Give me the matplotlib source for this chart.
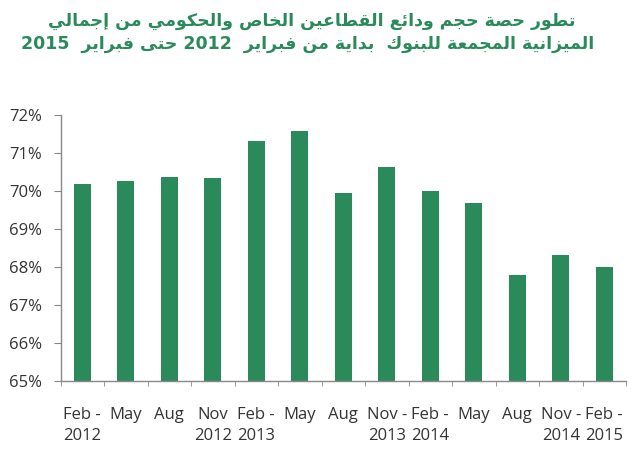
import re
import matplotlib
matplotlib.use("Agg")
import matplotlib.pyplot as plt
import numpy as np

periods = ["Feb -\n2012", "May", "Aug", "Nov\n2012", "Feb -\n2013", "May", "Aug",
           "Nov -\n2013", "Feb -\n2014", "May", "Aug", "Nov -\n2014", "Feb -\n2015"]
share = [70.18, 70.25, 70.36, 70.35, 71.32, 71.59, 69.96,
         70.63, 69.99, 69.68, 67.78, 68.31, 68.00]

title_lines = ["تطور حصة حجم ودائع القطاعين الخاص والحكومي من إجمالي",
               "الميزانية المجمعة للبنوك  بداية من فبراير  2012 حتى فبراير  2015"]

green = "#2a8a5a"

# presentation forms: isolated, final, initial, medial
FORMS = {
    "ا": (0xFE8D, 0xFE8E), "إ": (0xFE87, 0xFE88), "د": (0xFEA9, 0xFEAA),
    "ر": (0xFEAD, 0xFEAE), "ز": (0xFEAF, 0xFEB0), "و": (0xFEED, 0xFEEE),
    "ة": (0xFE93, 0xFE94), "ى": (0xFEEF, 0xFEF0),
    "ب": (0xFE8F, 0xFE90, 0xFE91, 0xFE92), "ت": (0xFE95, 0xFE96, 0xFE97, 0xFE98),
    "ج": (0xFE9D, 0xFE9E, 0xFE9F, 0xFEA0), "ح": (0xFEA1, 0xFEA2, 0xFEA3, 0xFEA4),
    "خ": (0xFEA5, 0xFEA6, 0xFEA7, 0xFEA8), "ص": (0xFEB9, 0xFEBA, 0xFEBB, 0xFEBC),
    "ط": (0xFEC1, 0xFEC2, 0xFEC3, 0xFEC4), "ع": (0xFEC9, 0xFECA, 0xFECB, 0xFECC),
    "ف": (0xFED1, 0xFED2, 0xFED3, 0xFED4), "ق": (0xFED5, 0xFED6, 0xFED7, 0xFED8),
    "ك": (0xFED9, 0xFEDA, 0xFEDB, 0xFEDC), "ل": (0xFEDD, 0xFEDE, 0xFEDF, 0xFEE0),
    "م": (0xFEE1, 0xFEE2, 0xFEE3, 0xFEE4), "ن": (0xFEE5, 0xFEE6, 0xFEE7, 0xFEE8),
    "ي": (0xFEF1, 0xFEF2, 0xFEF3, 0xFEF4), "ئ": (0xFE89, 0xFE8A, 0xFE8B, 0xFE8C),
}


def shape(text):
    out = []
    n = len(text)
    for i, ch in enumerate(text):
        if ch not in FORMS:
            out.append(ch)
            continue
        prev = text[i - 1] if i > 0 else ""
        nxt = text[i + 1] if i + 1 < n else ""
        join_prev = prev in FORMS and len(FORMS[prev]) == 4
        join_next = nxt in FORMS and len(FORMS[ch]) == 4
        f = FORMS[ch]
        if join_prev and join_next:
            out.append(chr(f[3]))
        elif join_prev:
            out.append(chr(f[1]))
        elif join_next:
            out.append(chr(f[2]))
        else:
            out.append(chr(f[0]))
    vis = "".join(out)[::-1]
    return re.sub(r"\d+", lambda m: m.group()[::-1], vis)


plt.rcParams["font.family"] = ["Open Sans", "DejaVu Sans"]

fig = plt.figure(figsize=(6.32, 4.5), dpi=100)
ax = fig.add_axes([60.5 / 632, 69 / 450, 565.5 / 632, 266 / 450])

x = np.arange(len(periods))
ax.bar(x, share, width=0.39, bottom=0, color=green, zorder=2)

ax.set_xlim(-0.5, len(periods) - 0.5)
ax.set_ylim(65, 72)
ax.set_yticks(np.arange(65, 73, 1))
ax.set_yticklabels([f"{v}%" for v in range(65, 73)], fontsize=12, color="#333333")
ax.set_xticks(x)
ax.set_xticklabels(periods, fontsize=12, color="#333333", va="top", linespacing=1.42)
ax.set_xticks(np.arange(-0.5, len(periods), 1), minor=True)
ax.tick_params(axis="x", which="major", length=0, pad=19)
ax.tick_params(axis="x", which="minor", length=3.5, color="#888888", direction="out")
ax.tick_params(axis="y", length=5, color="#888888", pad=8)

for s in ["top", "right"]:
    ax.spines[s].set_visible(False)
for s in ["left", "bottom"]:
    ax.spines[s].set_color("#888888")
    ax.spines[s].set_linewidth(1.0)

fig.text(0.493, 0.953, shape(title_lines[0]), ha="center", va="center",
         fontsize=12.5, fontweight="bold", color=green, family=["DejaVu Sans"])
fig.text(0.487, 0.903, shape(title_lines[1]), ha="center", va="center",
         fontsize=12.5, fontweight="bold", color=green, family=["DejaVu Sans"])

fig.savefig("out.png", dpi=100)
